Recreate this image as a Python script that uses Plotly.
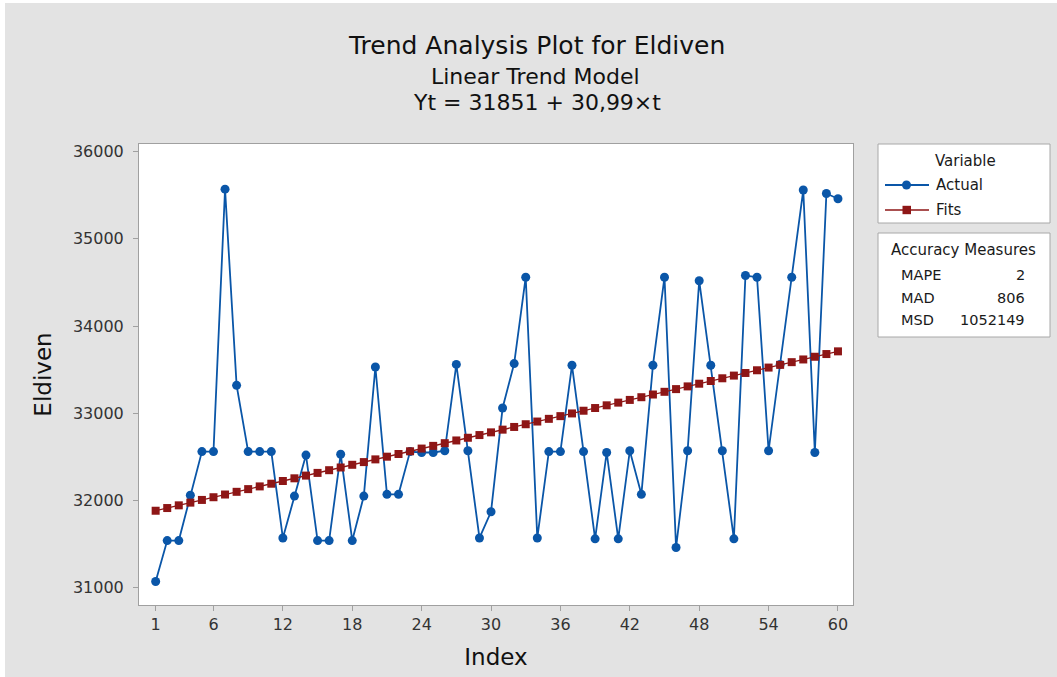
import plotly.graph_objects as go

# Monthly Eldiven series (index 1..60)
index = list(range(1, 61))
actual = [
    31070, 31540, 31540, 32060, 32560, 32560, 35570, 33320, 32560, 32560,
    32560, 31570, 32050, 32520, 31540, 31540, 32530, 31540, 32050, 33530,
    32070, 32070, 32560, 32550, 32550, 32570, 33560, 32570, 31570, 31870,
    33060, 33570, 34560, 31570, 32560, 32560, 33550, 32560, 31560, 32550,
    31560, 32570, 32070, 33550, 34560, 31460, 32570, 34520, 33550, 32570,
    31560, 34580, 34560, 32570, 33560, 34560, 35560, 32550, 35520, 35460,
]
# Fitted values of the linear trend Yt = 31851 + 30,99*t
fits = [
    31882, 31913, 31944, 31975, 32006, 32037, 32068, 32099, 32130, 32161,
    32192, 32223, 32254, 32285, 32316, 32347, 32378, 32409, 32440, 32471,
    32502, 32533, 32564, 32595, 32626, 32657, 32688, 32719, 32750, 32781,
    32812, 32843, 32874, 32905, 32936, 32967, 32998, 33029, 33060, 33091,
    33122, 33153, 33184, 33215, 33246, 33277, 33308, 33339, 33370, 33401,
    33432, 33462, 33493, 33524, 33555, 33586, 33617, 33648, 33679, 33710,
]
x_ticks = [1, 6, 12, 18, 24, 30, 36, 42, 48, 54, 60]
y_ticks = [31000, 32000, 33000, 34000, 35000, 36000]
measure_names = ["MAPE", "MAD", "MSD"]
measure_values = ["2", "806", "1052149"]

BLUE = "#0a56a8"
RED = "#8e1616"
BG = "#e3e3e3"
FONT = "DejaVu Sans"

W, H = 1057, 677
L, R, T, B = 139, 853, 144, 605  # plot area in pixels


def px(x):
    return (x - L) / (R - L)


def py(y):
    return (B - y) / (B - T)


fig = go.Figure()
fig.add_trace(go.Scatter(
    x=index, y=actual, mode="lines+markers", name="Actual",
    line=dict(color=BLUE, width=1.8),
    marker=dict(symbol="circle", size=9, color=BLUE),
))
fig.add_trace(go.Scatter(
    x=index, y=fits, mode="lines+markers", name="Fits",
    line=dict(color=RED, width=1.3),
    marker=dict(symbol="square", size=8, color=RED),
))

shapes = []
annotations = []

# white edge strips around the frame
shapes.append(dict(type="rect", xref="paper", yref="paper",
                   x0=px(0), x1=px(5), y0=py(H), y1=py(0),
                   fillcolor="white", line=dict(width=0), layer="below"))
shapes.append(dict(type="rect", xref="paper", yref="paper",
                   x0=px(0), x1=px(W), y0=py(3), y1=py(0),
                   fillcolor="white", line=dict(width=0), layer="below"))

# legend panels
for (y0, y1) in [(144, 223), (233, 337)]:
    shapes.append(dict(type="rect", xref="paper", yref="paper",
                       x0=px(878), x1=px(1050), y0=py(y1), y1=py(y0),
                       fillcolor="white", line=dict(color="#a8a8a8", width=1)))

# Variable legend entries
shapes.append(dict(type="line", xref="paper", yref="paper",
                   x0=px(885), x1=px(929), y0=py(185), y1=py(185),
                   line=dict(color=BLUE, width=1.8)))
shapes.append(dict(type="circle", xref="paper", yref="paper",
                   x0=px(902), x1=px(911), y0=py(189.5), y1=py(180.5),
                   fillcolor=BLUE, line=dict(color=BLUE, width=0)))
shapes.append(dict(type="line", xref="paper", yref="paper",
                   x0=px(885), x1=px(929), y0=py(210), y1=py(210),
                   line=dict(color=RED, width=1.3)))
shapes.append(dict(type="rect", xref="paper", yref="paper",
                   x0=px(902.5), x1=px(911), y0=py(214.2), y1=py(205.8),
                   fillcolor=RED, line=dict(color=RED, width=0)))


def text(x, y, s, size, anchor="center", color="#1a1a1a"):
    annotations.append(dict(x=px(x), y=py(y), xref="paper", yref="paper",
                            text=s, showarrow=False, xanchor=anchor,
                            yanchor="middle",
                            font=dict(family=FONT, size=size, color=color)))


text(965, 161, "Variable", 15)
text(934, 185, "Actual", 15, "left")
text(934, 210, "Fits", 15, "left")
text(964, 250, "Accuracy Measures", 15)
for i, (n, v) in enumerate(zip(measure_names, measure_values)):
    yy = 275 + i * 22.5
    text(899, yy, n, 14.5, "left")
    text(1027, yy, v, 14.5, "right")

# titles
text(536, 45, "Trend Analysis Plot for Eldiven", 25, color="#111111")
text(535, 77, "Linear Trend Model", 22, color="#111111")
text(537, 102, "Yt = 31851 + 30,99×t", 22, color="#111111")

fig.update_layout(
    width=W, height=H,
    margin=dict(l=L, r=W - R, t=T, b=H - B, pad=0),
    paper_bgcolor=BG, plot_bgcolor="white",
    showlegend=False,
    shapes=shapes, annotations=annotations,
    font=dict(family=FONT, color="#333333"),
)
fig.update_xaxes(
    range=[-0.44, 61.3], tickvals=x_ticks, ticktext=[str(v) for v in x_ticks],
    ticks="outside", ticklen=5,
    tickcolor="#a0a0a0", showgrid=False, zeroline=False,
    showline=True, linecolor="#a0a0a0", linewidth=1, mirror=True,
    tickfont=dict(family=FONT, size=16, color="#333333"),
    title=dict(text="Index", font=dict(family=FONT, size=23, color="#111111"), standoff=15),
)
fig.update_yaxes(
    range=[30801, 36088], tickvals=y_ticks, ticktext=[str(v) for v in y_ticks],
    ticks="outside", ticklen=5, ticklabelstandoff=6,
    tickcolor="#a0a0a0", showgrid=False, zeroline=False,
    showline=True, linecolor="#a0a0a0", linewidth=1, mirror=True,
    tickfont=dict(family=FONT, size=16, color="#333333"),
    title=dict(text="Eldiven", font=dict(family=FONT, size=23, color="#111111"), standoff=14),
)

fig.write_html("out.html")
